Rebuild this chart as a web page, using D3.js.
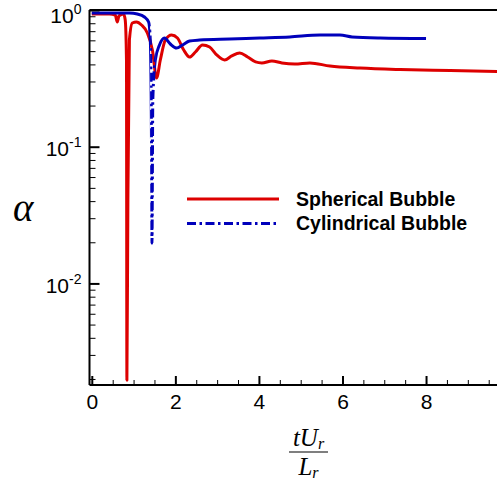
<!DOCTYPE html>
<html>
<head>
<meta charset="utf-8">
<script src="https://cdn.jsdelivr.net/npm/d3@7"></script>
<style>
  body { margin: 0; background: #fff; }
  svg { display: block; }
</style>
</head>
<body>
<svg id="chart" width="497" height="482"></svg>
<script>
// Void fraction history for the two bubble shapes (time in tU_r/L_r)
const sphericalT = [0, 0.42, 0.56, 0.61, 0.65, 0.76, 0.80, 0.83, 0.84, 0.864, 0.90, 0.97, 1.07, 1.19, 1.33, 1.45, 1.55, 1.64, 1.76, 1.91, 2.05, 2.20, 2.34, 2.48, 2.65, 2.82, 2.99, 3.18, 3.35, 3.54, 3.73, 3.92, 4.07, 4.31, 4.55, 4.86, 5.22, 5.70, 6.42, 7.38, 8.58, 9.75];
const sphericalAlpha = [0.935, 0.935, 0.92, 0.817, 0.904, 0.935, 0.845, 0.431, 0.00196, 0.0407, 0.603, 0.803, 0.817, 0.777, 0.679, 0.510, 0.318, 0.431, 0.603, 0.656, 0.624, 0.510, 0.453, 0.493, 0.555, 0.536, 0.469, 0.431, 0.461, 0.484, 0.453, 0.417, 0.410, 0.424, 0.410, 0.403, 0.410, 0.389, 0.376, 0.367, 0.361, 0.355];

const cylindricalT = [0, 0.90, 1.09, 1.26, 1.36, 1.40, 1.43, 1.44, 1.46, 1.52, 1.62, 1.74, 1.88, 2.03, 2.17, 2.34, 2.58, 3.30, 4.02, 4.74, 5.46, 5.94, 6.23, 6.90, 8.00];
const cylindricalAlpha = [0.951, 0.951, 0.935, 0.889, 0.817, 0.603, 0.0946, 0.0197, 0.22, 0.431, 0.555, 0.624, 0.564, 0.527, 0.555, 0.593, 0.603, 0.614, 0.624, 0.635, 0.656, 0.656, 0.635, 0.624, 0.619];

const seriesNames = ["Spherical Bubble", "Cylindrical Bubble"];
const seriesColors = ["#dd0000", "#0000bb"];

const xMajorTicks = [0, 2, 4, 6, 8];
const xMinorTicks = [0.5, 1, 1.5, 2.5, 3, 3.5, 4.5, 5, 5.5, 6.5, 7, 7.5, 8.5, 9, 9.5];
const yMajorTicks = [1, 0.1, 0.01];
const yTickExponents = ["0", "-1", "-2"];
const yMinorTicks = [2, 3, 4, 5, 6, 7, 8, 9].flatMap(m => [m * 0.001, m * 0.01, m * 0.1]);

const svg = d3.select("#chart");
const plotLeft = 89.5, plotTop = 10, plotBottom = 385, plotRight = 497;

const x = d3.scaleLinear().domain([-0.055, 10]).range([plotLeft, plotLeft + 10.055 * 41.78]);
const y = d3.scaleLog().domain([Math.pow(10, -2.743), 1]).range([plotBottom, plotTop]);

const dashDot = "9,3.5,2.5,3.5";
// The dash-dot pattern only shows up on the long steep stretch of the cylindrical curve;
// its many short flat segments read as a solid line.
const dashedSpan = [1.395, 1.515];

const defs = svg.append("defs");
defs.append("clipPath").attr("id", "plotClip")
  .append("rect").attr("x", plotLeft).attr("y", plotTop)
  .attr("width", plotRight - plotLeft).attr("height", plotBottom - plotTop);
const solidClip = defs.append("clipPath").attr("id", "solidClip");
solidClip.append("rect").attr("x", plotLeft).attr("y", plotTop)
  .attr("width", x(dashedSpan[0]) - plotLeft).attr("height", plotBottom - plotTop);
solidClip.append("rect").attr("x", x(dashedSpan[1])).attr("y", plotTop)
  .attr("width", plotRight - x(dashedSpan[1])).attr("height", plotBottom - plotTop);
defs.append("clipPath").attr("id", "dashClip")
  .append("rect").attr("x", x(dashedSpan[0])).attr("y", plotTop)
  .attr("width", x(dashedSpan[1]) - x(dashedSpan[0])).attr("height", plotBottom - plotTop);

// Curves
const line = d3.line().x(d => x(d[0])).y(d => y(d[1])).curve(d3.curveMonotoneX);
const plot = svg.append("g").attr("clip-path", "url(#plotClip)");
const spherical = sphericalT.map((t, k) => [t, sphericalAlpha[k]]);
const cylindrical = cylindricalT.map((t, k) => [t, cylindricalAlpha[k]]);

plot.append("path").datum(spherical).attr("d", line)
  .attr("fill", "none").attr("stroke", seriesColors[0]).attr("stroke-width", 3)
  .attr("stroke-linejoin", "round");

plot.append("g").attr("clip-path", "url(#solidClip)")
  .append("path").datum(cylindrical).attr("d", line)
  .attr("fill", "none").attr("stroke", seriesColors[1]).attr("stroke-width", 3)
  .attr("stroke-linejoin", "round");
plot.append("g").attr("clip-path", "url(#dashClip)")
  .append("path").datum(cylindrical).attr("d", line)
  .attr("fill", "none").attr("stroke", seriesColors[1]).attr("stroke-width", 3)
  .attr("stroke-dasharray", dashDot);

// X axis: major and minor inward ticks
const xMinor = svg.append("g").attr("transform", `translate(0,${plotBottom})`)
  .call(d3.axisBottom(x).tickValues(xMinorTicks).tickSizeInner(-5).tickSizeOuter(0).tickFormat(""));
xMinor.select(".domain").remove();
xMinor.selectAll(".tick line").attr("stroke", "#000").attr("stroke-width", 1);

const xAxis = svg.append("g").attr("transform", `translate(0,${plotBottom})`)
  .call(d3.axisBottom(x).tickValues(xMajorTicks).tickSizeInner(-9).tickSizeOuter(0).tickPadding(9).tickFormat(d3.format("d")));
xAxis.select(".domain").attr("d", `M${plotLeft},0H${plotRight}`).attr("stroke-width", 2);
xAxis.selectAll(".tick line").attr("stroke-width", 2);
xAxis.selectAll(".tick text")
  .attr("font-family", "'Liberation Sans', Arial, sans-serif")
  .attr("font-size", 21).attr("fill", "#000");

// Y axis: log ticks pointing into the plot
const yMinor = svg.append("g").attr("transform", `translate(${plotLeft},0)`)
  .call(d3.axisLeft(y).tickValues(yMinorTicks).tickSizeInner(-6).tickSizeOuter(0).tickFormat(""));
yMinor.select(".domain").remove();
yMinor.selectAll(".tick line").attr("stroke", "#000").attr("stroke-width", 1);

const yAxis = svg.append("g").attr("transform", `translate(${plotLeft},0)`)
  .call(d3.axisLeft(y).tickValues(yMajorTicks).tickSizeInner(-10).tickSizeOuter(0).tickFormat(""));
yAxis.select(".domain").attr("d", `M0,${plotBottom}V${plotTop}`).attr("stroke-width", 2);
yAxis.selectAll(".tick line").attr("stroke-width", 2);

const yLabels = svg.append("g")
  .attr("font-family", "'Liberation Sans', Arial, sans-serif")
  .attr("fill", "#000");
yMajorTicks.forEach((v, i) => {
  const ty = Math.max(y(v) + 2, 15);
  const t = yLabels.append("text")
    .attr("x", plotLeft - 8).attr("y", ty)
    .attr("text-anchor", "end")
    .attr("dy", "0.36em")
    .attr("font-size", 21);
  t.append("tspan").text("10");
  t.append("tspan").attr("font-size", 14).attr("dy", -9).text(yTickExponents[i]);
});

// Top frame line
svg.append("line")
  .attr("x1", plotLeft).attr("x2", plotRight).attr("y1", plotTop).attr("y2", plotTop)
  .attr("stroke", "#000").attr("stroke-width", 2);

// Axis titles
svg.append("text")
  .attr("x", 13).attr("y", 221)
  .attr("font-family", "'Liberation Serif', 'Times New Roman', serif")
  .attr("font-style", "italic")
  .attr("font-size", 39)
  .text("α");

const frac = svg.append("g")
  .attr("font-family", "'Liberation Serif', 'Times New Roman', serif")
  .attr("font-style", "italic")
  .attr("fill", "#000");
const num = frac.append("text").attr("x", 308.5).attr("y", 446).attr("text-anchor", "middle").attr("font-size", 25);
num.append("tspan").text("tU");
num.append("tspan").attr("font-size", 16).attr("dy", 3).text("r");
frac.append("line").attr("x1", 289).attr("x2", 328).attr("y1", 452).attr("y2", 452)
  .attr("stroke", "#000").attr("stroke-width", 1.2);
const den = frac.append("text").attr("x", 308.5).attr("y", 475).attr("text-anchor", "middle").attr("font-size", 25);
den.append("tspan").text("L");
den.append("tspan").attr("font-size", 16).attr("dy", 3).text("r");

// Legend
const legend = svg.append("g");
[199, 223.5].forEach((ly, i) => {
  legend.append("line")
    .attr("x1", 187).attr("x2", 279).attr("y1", ly).attr("y2", ly)
    .attr("stroke", seriesColors[i]).attr("stroke-width", 3)
    .attr("stroke-dasharray", i === 1 ? dashDot : null);
  legend.append("text")
    .attr("x", 296).attr("y", ly + 6.5)
    .attr("font-family", "'Liberation Sans', Arial, sans-serif")
    .attr("font-weight", "bold")
    .attr("font-size", 19.5)
    .attr("fill", "#000")
    .text(seriesNames[i]);
});
</script>
</body>
</html>
